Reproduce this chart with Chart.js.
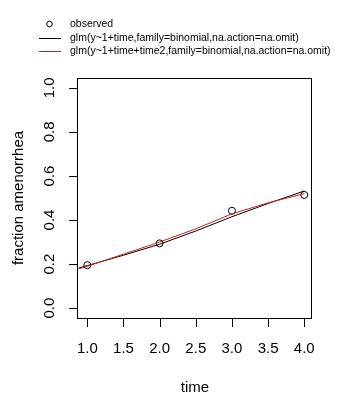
<!DOCTYPE html>
<html>
<head>
<meta charset="utf-8">
<script src="https://cdn.jsdelivr.net/npm/chart.js@4"></script>
<style>
  html, body { margin: 0; padding: 0; background: #fff; }
  #wrap { width: 353px; height: 416px; }
</style>
</head>
<body>
<div id="wrap"><canvas id="chart" width="353" height="416"></canvas></div>
<script>
// observed fractions
const timeObs = [1, 2, 3, 4];
const fracObs = [0.195, 0.294, 0.442, 0.514];

// fitted curves
const timeFit = [0.88, 1, 1.5, 2, 2.5, 3, 3.5, 4];
const fitLinear = [0.182, 0.193, 0.24, 0.29, 0.35, 0.415, 0.475, 0.532];
const fitQuad = [0.178, 0.19, 0.245, 0.30, 0.36, 0.428, 0.478, 0.52];

const xTicks = [1.0, 1.5, 2.0, 2.5, 3.0, 3.5, 4.0];
const yTicks = [0.0, 0.2, 0.4, 0.6, 0.8, 1.0];

const legendLabels = [
    'observed',
    'glm(y~1+time,family=binomial,na.action=na.omit)',
    'glm(y~1+time+time2,family=binomial,na.action=na.omit)'
];

const FONT = '"Liberation Sans", Arial, sans-serif';
const RED = 'rgb(205,30,30)';

function toPoints(xs, ys) {
    return xs.map((x, i) => ({ x: x, y: ys[i] }));
}

// R style box, axes, labels and legend
const rAxes = {
    id: 'rAxes',
    afterDraw(chart) {
        const c = chart.ctx;
        const a = chart.chartArea;
        const xs = chart.scales.x;
        const ys = chart.scales.y;
        c.save();
        c.strokeStyle = '#000';
        c.fillStyle = '#000';
        c.lineWidth = 1;

        // box
        c.strokeRect(Math.round(a.left) - 0.5, Math.round(a.top) + 0.5,
            Math.round(a.right - a.left) + 0, Math.round(a.bottom - a.top) - 0);

        // x axis
        c.font = '15px ' + FONT;
        c.textAlign = 'center';
        c.textBaseline = 'alphabetic';
        c.beginPath();
        xTicks.forEach(t => {
            const px = Math.round(xs.getPixelForValue(t)) + 0.5;
            c.moveTo(px, a.bottom);
            c.lineTo(px, a.bottom + 9);
        });
        c.stroke();
        xTicks.forEach(t => {
            c.fillText(t.toFixed(1), xs.getPixelForValue(t), 353);
        });

        // y axis
        c.beginPath();
        yTicks.forEach(t => {
            const py = Math.round(ys.getPixelForValue(t)) + 0.5;
            c.moveTo(a.left, py);
            c.lineTo(a.left - 9, py);
        });
        c.stroke();
        yTicks.forEach(t => {
            c.save();
            c.translate(54, ys.getPixelForValue(t));
            c.rotate(-Math.PI / 2);
            c.fillText(t.toFixed(1), 0, 0);
            c.restore();
        });

        // titles
        c.fillText('time', (a.left + a.right) / 2, 392);
        c.save();
        c.translate(23, (a.top + a.bottom) / 2);
        c.rotate(-Math.PI / 2);
        c.fillText('fraction amenorrhea', 0, 0);
        c.restore();

        // legend
        c.font = '10.5px ' + FONT;
        c.textAlign = 'left';
        c.textBaseline = 'middle';
        const rows = [24, 38, 51];
        c.beginPath();
        c.arc(49.5, rows[0], 2.8, 0, Math.PI * 2);
        c.stroke();
        c.beginPath();
        c.moveTo(39, rows[1] + 0.5);
        c.lineTo(61, rows[1] + 0.5);
        c.stroke();
        c.strokeStyle = RED;
        c.beginPath();
        c.moveTo(39, rows[2] + 0.5);
        c.lineTo(61, rows[2] + 0.5);
        c.stroke();
        legendLabels.forEach((txt, i) => {
            c.fillText(txt, 70, rows[i]);
        });
        c.restore();
    }
};

new Chart(document.getElementById('chart'), {
    type: 'scatter',
    data: {
        datasets: [
            {
                label: legendLabels[1],
                data: toPoints(timeFit, fitLinear),
                showLine: true,
                borderColor: '#000',
                borderWidth: 1,
                pointRadius: 0,
                tension: 0,
                order: 2
            },
            {
                label: legendLabels[2],
                data: toPoints(timeFit, fitQuad),
                showLine: true,
                borderColor: RED,
                borderWidth: 1,
                pointRadius: 0,
                tension: 0,
                order: 1
            },
            {
                label: legendLabels[0],
                data: toPoints(timeObs, fracObs),
                showLine: false,
                pointStyle: 'circle',
                pointRadius: 3.5,
                pointBorderWidth: 1,
                pointBorderColor: '#000',
                pointBackgroundColor: 'rgba(0,0,0,0)',
                order: 3
            }
        ]
    },
    options: {
        responsive: false,
        animation: false,
        layout: { padding: { left: 78, top: 78, right: 41, bottom: 98 } },
        plugins: {
            legend: { display: false },
            tooltip: { enabled: false }
        },
        scales: {
            x: { type: 'linear', min: 0.871, max: 4.107, display: false },
            y: { type: 'linear', min: -0.045, max: 1.045, display: false }
        }
    },
    plugins: [rAxes]
});
</script>
</body>
</html>
